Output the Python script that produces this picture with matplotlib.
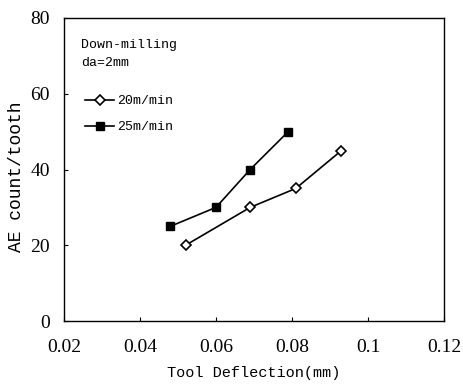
import matplotlib.pyplot as plt

# Data
x_20 = [0.052, 0.069, 0.081, 0.093]
y_20 = [20, 30, 35, 45]
x_25 = [0.048, 0.060, 0.069, 0.079]
y_25 = [25, 30, 40, 50]
labels = ['20m/min', '25m/min']
x_ticks = [0.02, 0.04, 0.06, 0.08, 0.1, 0.12]
x_tick_labels = ['0.02', '0.04', '0.06', '0.08', '0.1', '0.12']
y_ticks = [0, 20, 40, 60, 80]

plt.rcParams['font.family'] = 'Liberation Serif'
mono = 'Liberation Mono'

fig = plt.figure(figsize=(4.64, 3.84), dpi=100)
ax = fig.add_axes([64 / 464, 1 - 321 / 384, 380 / 464, 303 / 384])

ax.plot(x_20, y_20, color='black', lw=1.2, marker='D', ms=5,
        mfc='white', mec='black', mew=1.2, label=labels[0])
ax.plot(x_25, y_25, color='black', lw=1.2, marker='s', ms=6,
        mfc='black', mec='black', label=labels[1])

ax.set_xlim(0.02, 0.12)
ax.set_ylim(0, 80)
ax.set_xticks(x_ticks)
ax.set_xticklabels(x_tick_labels)
ax.set_yticks(y_ticks)
ax.tick_params(direction='in', length=3, labelsize=14)
ax.tick_params(axis='x', pad=13)
ax.tick_params(axis='y', pad=10)
for sp in ax.spines.values():
    sp.set_linewidth(1.0)

ax.set_xlabel('Tool Deflection(mm)', fontsize=11, family=mono, labelpad=7)
ax.set_ylabel('AE count/tooth', fontsize=13, family=mono)
ax.yaxis.set_label_coords(-0.103, 0.475)

ax.text(0.045, 0.93, 'Down-milling\nda=2mm', transform=ax.transAxes,
        fontsize=9.5, family=mono, va='top', ha='left', linespacing=1.6)
ax.legend(loc='upper left', bbox_to_anchor=(0.025, 0.785), frameon=False,
          prop={'family': mono, 'size': 9.5}, handlelength=2.2,
          handletextpad=0.2, labelspacing=1.05)

fig.savefig('out.png', dpi=100)
